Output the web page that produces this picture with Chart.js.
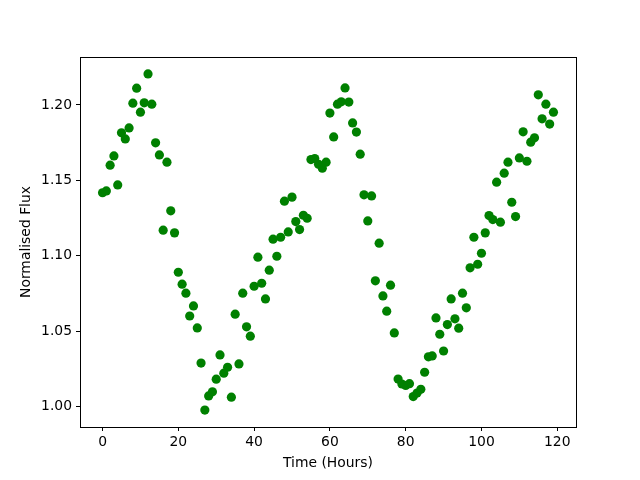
<!DOCTYPE html>
<html>
<head>
<meta charset="utf-8">
<script src="https://cdn.jsdelivr.net/npm/chart.js@4/dist/chart.umd.min.js"></script>
<style>
  html, body { margin: 0; padding: 0; background: #fff; }
  #wrap { width: 640px; height: 480px; }
</style>
</head>
<body>
<div id="wrap"><canvas id="chartFlux" width="640" height="480"></canvas></div>
<script>
// time in hours
const hours = [];
for (let h = 0; h < 120; h++) hours.push(h);

// normalised flux
const flux = [
  1.1418, 1.1430, 1.1601, 1.1662, 1.1470, 1.1815, 1.1775, 1.1848, 1.2012, 1.2111,
  1.1952, 1.2014, 1.2206, 1.2005, 1.1749, 1.1669, 1.1170, 1.1621, 1.1298, 1.1152,
  1.0891, 1.0812, 1.0752, 1.0601, 1.0668, 1.0522, 1.0289, 0.9977, 1.0071, 1.0098,
  1.0182, 1.0343, 1.0222, 1.0261, 1.0063, 1.0613, 1.0283, 1.0752, 1.0529, 1.0467,
  1.0798, 1.0991, 1.0818, 1.0714, 1.0905, 1.1110, 1.0997, 1.1123, 1.1362, 1.1158,
  1.1389, 1.1227, 1.1174, 1.1269, 1.1249, 1.1638, 1.1645, 1.1607, 1.1581, 1.1621,
  1.1946, 1.1788, 1.2005, 1.2021, 1.2113, 1.2019, 1.1881, 1.1820, 1.1674, 1.1404,
  1.1231, 1.1397, 1.0834, 1.1084, 1.0734, 1.0633, 1.0805, 1.0489, 1.0183, 1.0150,
  1.0140, 1.0152, 1.0067, 1.0090, 1.0115, 1.0228, 1.0330, 1.0336, 1.0588, 1.0480,
  1.0369, 1.0544, 1.0714, 1.0582, 1.0520, 1.0752, 1.0655, 1.0920, 1.1123, 1.0944,
  1.1017, 1.1152, 1.1267, 1.1240, 1.1488, 1.1223, 1.1548, 1.1621, 1.1355, 1.1260,
  1.1649, 1.1822, 1.1627, 1.1753, 1.1782, 1.2067, 1.1908, 1.2005, 1.1873, 1.1952
];

const xTicks = [0, 20, 40, 60, 80, 100, 120];
const yTicks = [1.00, 1.05, 1.10, 1.15, 1.20];

const font = { family: 'DejaVu Sans', size: 13.9 };

// matplotlib style box round the plot area
const boxPlugin = {
  id: 'box',
  afterDraw(chart) {
    const { ctx, chartArea: a } = chart;
    ctx.save();
    ctx.strokeStyle = '#000';
    ctx.lineWidth = 1;
    ctx.strokeRect(Math.round(a.left) + 0.5, Math.round(a.top) + 0.5,
                   Math.round(a.right - a.left), Math.round(a.bottom - a.top));
    ctx.restore();
  }
};

const ctx = document.getElementById('chartFlux').getContext('2d');
new Chart(ctx, {
  type: 'scatter',
  data: {
    datasets: [{
      data: hours.map((h, i) => ({ x: h, y: flux[i] })),
      backgroundColor: '#008000',
      borderColor: '#008000',
      borderWidth: 0,
      pointRadius: 4.6,
      pointHoverRadius: 4.6
    }]
  },
  options: {
    responsive: false,
    animation: false,
    events: [],
    layout: { padding: { top: 57, right: 64, left: 0, bottom: 0 } },
    plugins: { legend: { display: false }, tooltip: { enabled: false } },
    scales: {
      x: {
        type: 'linear',
        min: -5.95,
        max: 124.95,
        afterFit: s => { s.height = 53; },
        afterBuildTicks: s => { s.ticks = xTicks.map(v => ({ value: v })); },
        border: { display: false },
        grid: { drawOnChartArea: false, drawTicks: true, tickLength: 4, color: '#000', tickWidth: 1 },
        ticks: { color: '#000', font: font, padding: 3, maxRotation: 0, callback: v => String(v) },
        title: { display: true, text: 'Time (Hours)', color: '#000', font: font, padding: { top: 0, bottom: 8.6 } }
      },
      y: {
        type: 'linear',
        min: 0.9865,
        max: 1.2318,
        afterFit: s => { s.width = 80; },
        afterBuildTicks: s => { s.ticks = yTicks.map(v => ({ value: v })); },
        border: { display: false },
        grid: { drawOnChartArea: false, drawTicks: true, tickLength: 4, color: '#000', tickWidth: 1 },
        ticks: { color: '#000', font: font, padding: 4, callback: v => v.toFixed(2) },
        title: { display: true, text: 'Normalised Flux', color: '#000', font: font, padding: { top: 17.6, bottom: 0 } }
      }
    }
  },
  plugins: [boxPlugin]
});
</script>
</body>
</html>
